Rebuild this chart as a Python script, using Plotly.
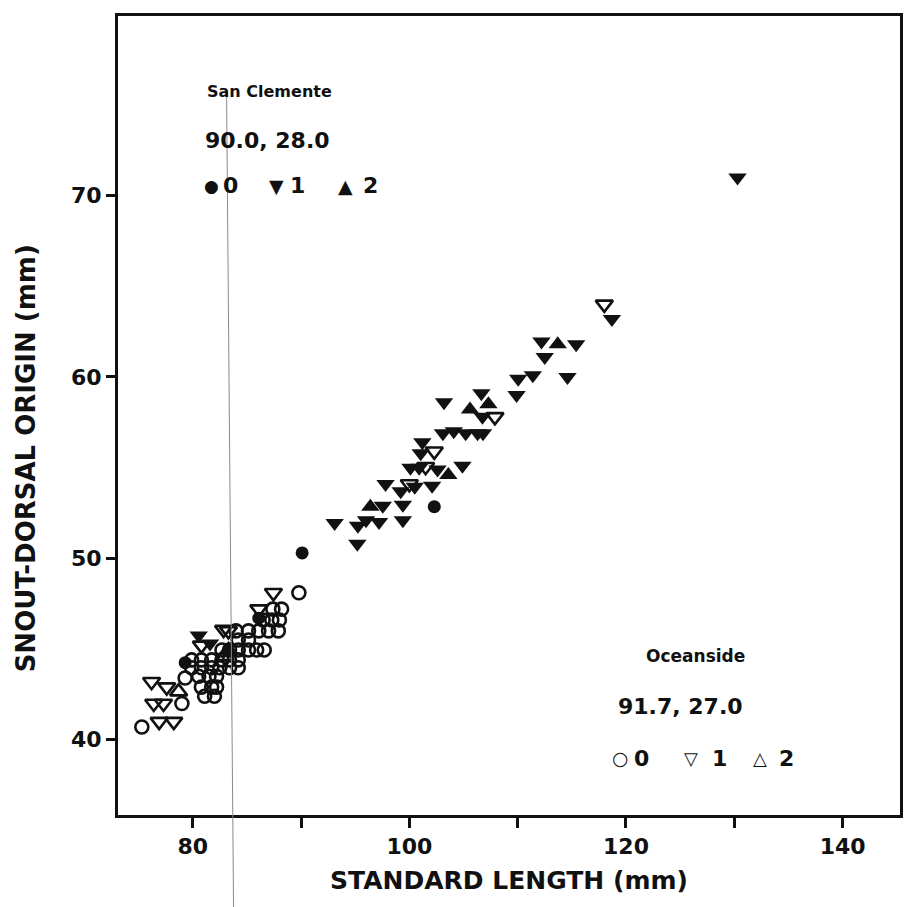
import plotly.graph_objects as go

# San Clemente sample (filled symbols), standard length vs snout-dorsal origin (mm)
sc0_x = [90.1, 102.3, 79.3, 86.1]
sc0_y = [50.3, 52.85, 44.25, 46.7]

sc1_x = [130.3, 118.7, 112.2, 115.4, 112.5, 111.4, 110.05, 114.6, 109.9, 106.65,
         103.2, 106.75, 103.1, 104.1, 105.2, 106.3, 106.8, 101.2, 101.05, 100.1,
         100.9, 102.6, 104.9, 97.8, 99.2, 100.5, 102.1, 99.4, 97.55, 93.1,
         95.25, 96.0, 97.2, 99.4, 95.2, 80.55, 81.6]
sc1_y = [71.0, 63.2, 61.95, 61.8, 61.1, 60.1, 59.9, 60.0, 59.0, 59.1,
         58.6, 57.8, 56.9, 57.0, 56.9, 56.9, 56.9, 56.4, 55.8, 55.0,
         55.0, 54.9, 55.1, 54.1, 53.7, 53.95, 54.0, 52.95, 52.9, 51.95,
         51.8, 52.1, 52.0, 52.1, 50.8, 45.75, 45.3]

sc2_x = [113.7, 107.3, 105.6, 103.6, 96.4, 83.3]
sc2_y = [61.8, 58.5, 58.2, 54.6, 52.85, 45.0]

# Oceanside sample (open symbols)
oc0_x = [89.8, 87.4, 88.2, 86.5, 87.3, 88.0, 84.0, 85.15, 86.1, 87.0,
         87.9, 84.2, 85.15, 82.7, 83.4, 84.2, 85.15, 85.9, 86.6, 79.9,
         80.8, 81.75, 82.7, 83.4, 84.2, 79.9, 80.8, 81.75, 82.5, 83.4,
         84.2, 79.3, 80.55, 81.5, 82.2, 80.8, 81.75, 82.2, 81.1, 82.0,
         79.0, 75.3]
oc0_y = [48.1, 47.2, 47.2, 46.6, 46.6, 46.6, 46.0, 46.0, 46.0, 46.0,
         46.0, 45.5, 45.5, 44.95, 44.95, 44.95, 44.95, 44.95, 44.95, 44.4,
         44.4, 44.4, 44.4, 44.4, 44.4, 43.97, 43.97, 43.97, 43.97, 43.97,
         43.97, 43.4, 43.5, 43.5, 43.5, 42.9, 42.9, 42.9, 42.4, 42.4,
         42.0, 40.7]

oc1_x = [118.0, 107.9, 102.3, 101.5, 100.0, 87.45, 86.1, 82.85, 83.3, 76.2,
         77.6, 76.4, 77.3, 76.9, 78.25, 80.8]
oc1_y = [64.0, 57.8, 55.9, 55.05, 54.1, 48.1, 47.2, 46.07, 46.0, 43.2,
         42.9, 42.0, 42.0, 41.0, 41.0, 45.2]

oc2_x = [78.7, 83.0]
oc2_y = [42.65, 44.6]

x_ticks = [80, 90, 100, 110, 120, 130, 140]
x_labels = ["80", "", "100", "", "120", "", "140"]
y_ticks = [40, 50, 60, 70]
y_labels = ["40", "50", "60", "70"]

INK = "#111111"

fig = go.Figure()


def add_series(xs, ys, symbol, size, name):
    open_marker = symbol.endswith("-open")
    fig.add_trace(go.Scatter(
        x=xs, y=ys, mode="markers", name=name,
        marker=dict(
            symbol=symbol, size=size, color=INK,
            line=dict(color=INK, width=2.6 if open_marker else 0),
        ),
    ))


add_series(oc0_x, oc0_y, "circle-open", 13, "Oceanside 0")
add_series(oc1_x, oc1_y, "triangle-down-open", 15, "Oceanside 1")
add_series(oc2_x, oc2_y, "triangle-up-open", 15, "Oceanside 2")
add_series(sc0_x, sc0_y, "circle", 13, "San Clemente 0")
add_series(sc1_x, sc1_y, "triangle-down", 16, "San Clemente 1")
add_series(sc2_x, sc2_y, "triangle-up", 16, "San Clemente 2")

FONT = "DejaVu Sans"


def note(text, x, y, size, bold=True, anchor="left"):
    fig.add_annotation(
        text=text, x=x, y=y, xref="paper", yref="paper",
        xanchor=anchor, yanchor="middle", showarrow=False,
        font=dict(family=FONT, size=size, color=INK,
                  weight="bold" if bold else "normal"),
    )


def px_x(p):
    return (p - 118) / 785


def px_y(p):
    return (815 - p) / 799


# San Clemente key
note("San Clemente", px_x(205), px_y(92), 16)
note("90.0, 28.0", px_x(203), px_y(140), 22)
note("●", px_x(202), px_y(186), 17)
note("0", px_x(221), px_y(186), 22)
note("▼", px_x(268), px_y(186), 19)
note("1", px_x(289), px_y(186), 22)
note("▲", px_x(337), px_y(186), 19)
note("2", px_x(362), px_y(186), 22)

# Oceanside key
note("Oceanside", px_x(646), px_y(656), 17)
note("91.7, 27.0", px_x(618), px_y(706), 22)
note("○", px_x(612), px_y(758), 19, bold=False)
note("0", px_x(634), px_y(758), 22)
note("▽", px_x(684), px_y(758), 18, bold=False)
note("1", px_x(712), px_y(758), 22)
note("△", px_x(753), px_y(758), 18, bold=False)
note("2", px_x(780), px_y(758), 22)

# vertical axis title
fig.add_annotation(
    text="SNOUT-DORSAL ORIGIN (mm)", x=px_x(26), y=px_y(458),
    xref="paper", yref="paper", textangle=-90, showarrow=False,
    xanchor="center", yanchor="middle",
    font=dict(family=FONT, size=26, color=INK, weight="bold"),
)

# thin vertical rule crossing the panel
fig.add_shape(
    type="line", xref="paper", yref="paper",
    x0=px_x(227), y0=px_y(95), x1=px_x(234), y1=px_y(907),
    line=dict(color="#8a8a8a", width=1),
)

fig.update_layout(
    width=907, height=907,
    margin=dict(l=118, r=4, t=16, b=92),
    paper_bgcolor="white", plot_bgcolor="white",
    showlegend=False,
    xaxis=dict(
        range=[73.1, 145.3], tickvals=x_ticks, ticktext=x_labels,
        ticks="outside", ticklen=10, tickwidth=2.5, tickcolor=INK,
        showline=True, linewidth=3, linecolor=INK, mirror=True,
        showgrid=False, zeroline=False,
        tickfont=dict(family=FONT, size=22, color=INK, weight="bold"),
        title=dict(text="STANDARD LENGTH (mm)", standoff=14,
                   font=dict(family=FONT, size=25, color=INK, weight="bold")),
    ),
    yaxis=dict(
        range=[35.85, 79.9], tickvals=y_ticks, ticktext=y_labels,
        ticks="outside", ticklen=9, tickwidth=2.5, tickcolor=INK,
        showline=True, linewidth=3, linecolor=INK, mirror=True,
        showgrid=False, zeroline=False,
        tickfont=dict(family=FONT, size=22, color=INK, weight="bold"),
    ),
)

fig.write_html("out.html")
